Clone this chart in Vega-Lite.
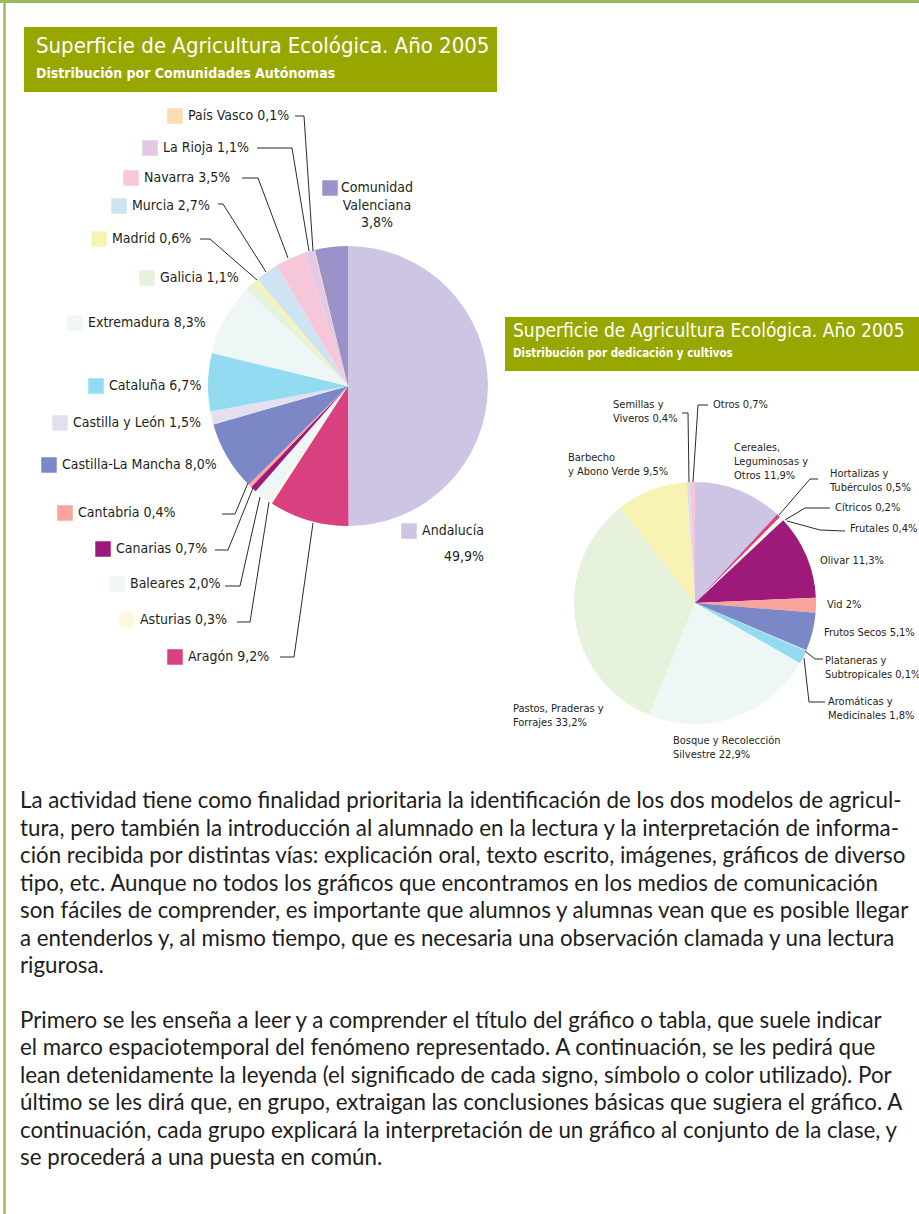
{
  "$schema": "https://vega.github.io/schema/vega-lite/v6.json",
  "width": 919,
  "height": 1214,
  "autosize": "none",
  "padding": 0,
  "background": "white",
  "config": {"view": {"stroke": null}},
  "datasets": {
    "comunidades": [
      {"orden": 1, "nombre": "Andalucía", "pct": 49.9, "etiqueta": ["Andalucía", "49,9%"], "lx": 409, "ly": 531},
      {"orden": 2, "nombre": "Aragón", "pct": 9.2, "etiqueta": "Aragón  9,2%", "lx": 175, "ly": 657},
      {"orden": 3, "nombre": "Asturias", "pct": 0.3, "etiqueta": "Asturias 0,3%", "lx": 127, "ly": 620},
      {"orden": 4, "nombre": "Baleares", "pct": 2.0, "etiqueta": "Baleares 2,0%", "lx": 117, "ly": 584},
      {"orden": 5, "nombre": "Canarias", "pct": 0.7, "etiqueta": "Canarias 0,7%", "lx": 103, "ly": 549},
      {"orden": 6, "nombre": "Cantabria", "pct": 0.4, "etiqueta": "Cantabria  0,4%", "lx": 65, "ly": 513},
      {"orden": 7, "nombre": "Castilla-La Mancha", "pct": 8.0, "etiqueta": "Castilla-La Mancha  8,0%", "lx": 49, "ly": 465},
      {"orden": 8, "nombre": "Castilla y León", "pct": 1.5, "etiqueta": "Castilla y León  1,5%", "lx": 60, "ly": 423},
      {"orden": 9, "nombre": "Cataluña", "pct": 6.7, "etiqueta": "Cataluña 6,7%", "lx": 96, "ly": 386},
      {"orden": 10, "nombre": "Extremadura", "pct": 8.3, "etiqueta": "Extremadura  8,3%", "lx": 75, "ly": 323},
      {"orden": 11, "nombre": "Galicia", "pct": 1.1, "etiqueta": "Galicia  1,1%", "lx": 147, "ly": 278},
      {"orden": 12, "nombre": "Madrid", "pct": 0.6, "etiqueta": "Madrid  0,6%", "lx": 99, "ly": 239},
      {"orden": 13, "nombre": "Murcia", "pct": 2.7, "etiqueta": "Murcia  2,7%", "lx": 119, "ly": 206},
      {"orden": 14, "nombre": "Navarra", "pct": 3.5, "etiqueta": "Navarra   3,5%", "lx": 131, "ly": 178},
      {"orden": 15, "nombre": "La Rioja", "pct": 1.1, "etiqueta": "La Rioja   1,1%", "lx": 150, "ly": 148},
      {"orden": 16, "nombre": "País Vasco", "pct": 0.1, "etiqueta": "País Vasco  0,1%", "lx": 175, "ly": 116},
      {"orden": 17, "nombre": "Comunidad Valenciana", "pct": 3.8, "etiqueta": ["Comunidad", "Valenciana", "3,8%"], "lx": 330, "ly": 188}
    ],
    "cultivos": [
      {"orden": 1, "nombre": "Cereales, Leguminosas y Otros", "pct": 11.9, "etiqueta": ["Cereales,", "Leguminosas y", "Otros 11,9%"], "lx": 734, "ly": 448},
      {"orden": 2, "nombre": "Hortalizas y Tubérculos", "pct": 0.5, "etiqueta": ["Hortalizas y", "Tubérculos  0,5%"], "lx": 830, "ly": 474},
      {"orden": 3, "nombre": "Cítricos", "pct": 0.2, "etiqueta": "Cítricos  0,2%", "lx": 835, "ly": 508},
      {"orden": 4, "nombre": "Frutales", "pct": 0.4, "etiqueta": "Frutales  0,4%", "lx": 850, "ly": 529},
      {"orden": 5, "nombre": "Olivar", "pct": 11.3, "etiqueta": "Olivar 11,3%", "lx": 820, "ly": 561},
      {"orden": 6, "nombre": "Vid", "pct": 2.0, "etiqueta": "Vid 2%", "lx": 827, "ly": 605},
      {"orden": 7, "nombre": "Frutos Secos", "pct": 5.1, "etiqueta": "Frutos Secos 5,1%", "lx": 824, "ly": 633},
      {"orden": 8, "nombre": "Plataneras y Subtropicales", "pct": 0.1, "etiqueta": ["Plataneras y", "Subtropicales 0,1%"], "lx": 825, "ly": 661},
      {"orden": 9, "nombre": "Aromáticas y Medicinales", "pct": 1.8, "etiqueta": ["Aromáticas y", "Medicinales  1,8%"], "lx": 828, "ly": 702},
      {"orden": 10, "nombre": "Bosque y Recolección Silvestre", "pct": 22.9, "etiqueta": ["Bosque y Recolección", "Silvestre 22,9%"], "lx": 673, "ly": 741},
      {"orden": 11, "nombre": "Pastos, Praderas y Forrajes", "pct": 33.2, "etiqueta": ["Pastos, Praderas y", "Forrajes  33,2%"], "lx": 513, "ly": 709},
      {"orden": 12, "nombre": "Barbecho y Abono Verde", "pct": 9.5, "etiqueta": ["Barbecho", "y Abono Verde  9,5%"], "lx": 568, "ly": 458},
      {"orden": 13, "nombre": "Semillas y Viveros", "pct": 0.4, "etiqueta": ["Semillas y", "Viveros  0,4%"], "lx": 613, "ly": 405},
      {"orden": 14, "nombre": "Otros", "pct": 0.7, "etiqueta": "Otros  0,7%", "lx": 713, "ly": 405}
    ],
    "guias": [
      {"g": "País Vasco", "k": 1, "x": 295, "y": 116}, {"g": "País Vasco", "k": 2, "x": 304, "y": 116}, {"g": "País Vasco", "k": 3, "x": 313, "y": 251},
      {"g": "La Rioja", "k": 1, "x": 257, "y": 148}, {"g": "La Rioja", "k": 2, "x": 292, "y": 148}, {"g": "La Rioja", "k": 3, "x": 309, "y": 251},
      {"g": "Navarra", "k": 1, "x": 242, "y": 178}, {"g": "Navarra", "k": 2, "x": 258, "y": 178}, {"g": "Navarra", "k": 3, "x": 288, "y": 258},
      {"g": "Murcia", "k": 1, "x": 218, "y": 204}, {"g": "Murcia", "k": 2, "x": 223, "y": 204}, {"g": "Murcia", "k": 3, "x": 266, "y": 272},
      {"g": "Madrid", "k": 1, "x": 200, "y": 239}, {"g": "Madrid", "k": 2, "x": 210, "y": 239}, {"g": "Madrid", "k": 3, "x": 257, "y": 280},
      {"g": "Cantabria", "k": 1, "x": 222, "y": 514}, {"g": "Cantabria", "k": 2, "x": 235, "y": 514}, {"g": "Cantabria", "k": 3, "x": 248, "y": 483},
      {"g": "Canarias", "k": 1, "x": 215, "y": 550}, {"g": "Canarias", "k": 2, "x": 228, "y": 550}, {"g": "Canarias", "k": 3, "x": 253, "y": 488},
      {"g": "Baleares", "k": 1, "x": 225, "y": 586}, {"g": "Baleares", "k": 2, "x": 240, "y": 586}, {"g": "Baleares", "k": 3, "x": 260, "y": 497},
      {"g": "Asturias", "k": 1, "x": 237, "y": 622}, {"g": "Asturias", "k": 2, "x": 250, "y": 622}, {"g": "Asturias", "k": 3, "x": 269, "y": 502},
      {"g": "Aragón", "k": 1, "x": 280, "y": 657}, {"g": "Aragón", "k": 2, "x": 294, "y": 657}, {"g": "Aragón", "k": 3, "x": 313, "y": 523},
      {"g": "Semillas", "k": 1, "x": 682, "y": 413}, {"g": "Semillas", "k": 2, "x": 688, "y": 413}, {"g": "Semillas", "k": 3, "x": 689, "y": 482},
      {"g": "Otros", "k": 1, "x": 708, "y": 405}, {"g": "Otros", "k": 2, "x": 698, "y": 405}, {"g": "Otros", "k": 3, "x": 693, "y": 482},
      {"g": "Hortalizas", "k": 1, "x": 818, "y": 479}, {"g": "Hortalizas", "k": 2, "x": 810, "y": 479}, {"g": "Hortalizas", "k": 3, "x": 779, "y": 515},
      {"g": "Cítricos", "k": 1, "x": 830, "y": 508}, {"g": "Cítricos", "k": 2, "x": 805, "y": 508}, {"g": "Cítricos", "k": 3, "x": 785, "y": 520},
      {"g": "Frutales", "k": 1, "x": 845, "y": 531}, {"g": "Frutales", "k": 2, "x": 820, "y": 530}, {"g": "Frutales", "k": 3, "x": 787, "y": 521},
      {"g": "Plataneras", "k": 1, "x": 823, "y": 659}, {"g": "Plataneras", "k": 2, "x": 815, "y": 659}, {"g": "Plataneras", "k": 3, "x": 805, "y": 651},
      {"g": "Aromáticas", "k": 1, "x": 825, "y": 702}, {"g": "Aromáticas", "k": 2, "x": 809, "y": 702}, {"g": "Aromáticas", "k": 3, "x": 804, "y": 658}
    ],
    "parrafos": [
      {"linea": "La actividad tiene como finalidad prioritaria la identificación de los dos modelos de agricul-", "y": 801},
      {"linea": "tura, pero también la introducción al alumnado en la lectura y la interpretación de informa-", "y": 829},
      {"linea": "ción recibida por distintas vías: explicación oral, texto escrito, imágenes, gráficos de diverso", "y": 856},
      {"linea": "tipo, etc. Aunque no todos los gráficos que encontramos en los medios de comunicación", "y": 884},
      {"linea": "son fáciles de comprender, es importante que alumnos y alumnas vean que es posible llegar", "y": 911},
      {"linea": "a entenderlos y, al mismo tiempo, que es necesaria una observación clamada y una lectura", "y": 939},
      {"linea": "rigurosa.", "y": 966},
      {"linea": "Primero se les enseña a leer y a comprender el título del gráfico o tabla, que suele indicar", "y": 1021},
      {"linea": "el marco espaciotemporal del fenómeno representado. A continuación, se les pedirá que", "y": 1048},
      {"linea": "lean detenidamente la leyenda (el significado de cada signo, símbolo o color utilizado). Por", "y": 1076},
      {"linea": "último se les dirá que, en grupo, extraigan las conclusiones básicas que sugiera el gráfico. A", "y": 1103},
      {"linea": "continuación, cada grupo explicará la interpretación de un gráfico al conjunto de la clase, y", "y": 1131},
      {"linea": "se procederá a una puesta en común.", "y": 1158}
    ]
  },
  "resolve": {"scale": {"theta": "independent"}},
  "layer": [
    {
      "data": {"values": [{}]},
      "mark": {"type": "rule", "color": "#9dba5a", "strokeWidth": 3},
      "encoding": {
        "x": {"datum": 0, "type": "quantitative", "scale": {"domain": [0, 919], "nice": false, "zero": false}, "axis": null},
        "x2": {"datum": 919},
        "y": {"datum": 1.5, "type": "quantitative", "scale": {"domain": [0, 1214], "reverse": true, "nice": false, "zero": false}, "axis": null}
      }
    },
    {
      "data": {"values": [{}]},
      "mark": {"type": "rule", "color": "#9dba5a", "strokeWidth": 2.5},
      "encoding": {
        "x": {"datum": 4.5, "type": "quantitative", "scale": {"domain": [0, 919], "nice": false, "zero": false}, "axis": null},
        "y": {"datum": 0, "type": "quantitative", "scale": {"domain": [0, 1214], "reverse": true, "nice": false, "zero": false}, "axis": null},
        "y2": {"datum": 1214}
      }
    },
    {
      "data": {"values": [{"x1": 24, "x2": 497, "y1": 27, "y2": 92}, {"x1": 505, "x2": 919, "y1": 317, "y2": 371}]},
      "mark": {"type": "rect", "color": "#97a700"},
      "encoding": {
        "x": {"field": "x1", "type": "quantitative", "scale": {"domain": [0, 919], "nice": false, "zero": false}, "axis": null},
        "x2": {"field": "x2"},
        "y": {"field": "y1", "type": "quantitative", "scale": {"domain": [0, 1214], "reverse": true, "nice": false, "zero": false}, "axis": null},
        "y2": {"field": "y2"}
      }
    },
    {
      "data": {"values": [
        {"t": "Superficie de Agricultura Ecológica. Año 2005", "x": 36, "y": 46}
      ]},
      "mark": {"type": "text", "align": "left", "baseline": "middle", "font": "DejaVu Sans Condensed, sans-serif", "fontSize": 22, "fill": "white"},
      "encoding": {
        "x": {"field": "x", "type": "quantitative", "scale": {"domain": [0, 919], "nice": false, "zero": false}, "axis": null},
        "y": {"field": "y", "type": "quantitative", "scale": {"domain": [0, 1214], "reverse": true, "nice": false, "zero": false}, "axis": null},
        "text": {"field": "t", "type": "nominal"}
      }
    },
    {
      "data": {"values": [
        {"t": "Superficie de Agricultura Ecológica. Año 2005", "x": 513, "y": 331}
      ]},
      "mark": {"type": "text", "align": "left", "baseline": "middle", "font": "DejaVu Sans Condensed, sans-serif", "fontSize": 19, "fill": "white"},
      "encoding": {
        "x": {"field": "x", "type": "quantitative", "scale": {"domain": [0, 919], "nice": false, "zero": false}, "axis": null},
        "y": {"field": "y", "type": "quantitative", "scale": {"domain": [0, 1214], "reverse": true, "nice": false, "zero": false}, "axis": null},
        "text": {"field": "t", "type": "nominal"}
      }
    },
    {
      "data": {"values": [
        {"t": "Distribución por Comunidades Autónomas", "x": 36, "y": 74}
      ]},
      "mark": {"type": "text", "align": "left", "baseline": "middle", "font": "DejaVu Sans Condensed, sans-serif", "fontSize": 14, "fontWeight": "bold", "fill": "white"},
      "encoding": {
        "x": {"field": "x", "type": "quantitative", "scale": {"domain": [0, 919], "nice": false, "zero": false}, "axis": null},
        "y": {"field": "y", "type": "quantitative", "scale": {"domain": [0, 1214], "reverse": true, "nice": false, "zero": false}, "axis": null},
        "text": {"field": "t", "type": "nominal"}
      }
    },
    {
      "data": {"values": [
        {"t": "Distribución por dedicación y cultivos", "x": 513, "y": 354}
      ]},
      "mark": {"type": "text", "align": "left", "baseline": "middle", "font": "DejaVu Sans Condensed, sans-serif", "fontSize": 11.5, "fontWeight": "bold", "fill": "white"},
      "encoding": {
        "x": {"field": "x", "type": "quantitative", "scale": {"domain": [0, 919], "nice": false, "zero": false}, "axis": null},
        "y": {"field": "y", "type": "quantitative", "scale": {"domain": [0, 1214], "reverse": true, "nice": false, "zero": false}, "axis": null},
        "text": {"field": "t", "type": "nominal"}
      }
    },
    {
      "data": {"name": "comunidades"},
      "mark": {"type": "arc", "outerRadius": 140},
      "encoding": {
        "theta": {"field": "pct", "type": "quantitative", "stack": true},
        "order": {"field": "orden", "type": "quantitative"},
        "color": {
          "field": "nombre", "type": "nominal", "legend": null,
          "scale": {
            "domain": ["Andalucía", "Aragón", "Asturias", "Baleares", "Canarias", "Cantabria", "Castilla-La Mancha", "Castilla y León", "Cataluña", "Extremadura", "Galicia", "Madrid", "Murcia", "Navarra", "La Rioja", "País Vasco", "Comunidad Valenciana",
                       "Cereales, Leguminosas y Otros", "Hortalizas y Tubérculos", "Cítricos", "Frutales", "Olivar", "Vid", "Frutos Secos", "Plataneras y Subtropicales", "Aromáticas y Medicinales", "Bosque y Recolección Silvestre", "Pastos, Praderas y Forrajes", "Barbecho y Abono Verde", "Semillas y Viveros", "Otros"],
            "range": ["#cec5e4", "#d9407f", "#fdf8df", "#eef7f6", "#9d1a7b", "#f9a59b", "#7b87c6", "#e4e0f0", "#92dbf1", "#eef7f6", "#e6f2dc", "#f9f3b3", "#cfe4f2", "#f8c6d9", "#e3c9e4", "#fbdcb0", "#9a92c9",
                      "#cec5e4", "#d9407f", "#fdf8df", "#eef7f6", "#9d1a7b", "#f9a59b", "#7b87c6", "#e4e0f0", "#92dbf1", "#eef7f6", "#e6f2dc", "#f9f3b3", "#cfe4f2", "#f8c6d9"]
          }
        },
        "x": {"datum": 348, "type": "quantitative", "scale": {"domain": [0, 919], "nice": false, "zero": false}, "axis": null},
        "y": {"datum": 386, "type": "quantitative", "scale": {"domain": [0, 1214], "reverse": true, "nice": false, "zero": false}, "axis": null}
      }
    },
    {
      "data": {"name": "cultivos"},
      "mark": {"type": "arc", "outerRadius": 121},
      "encoding": {
        "theta": {"field": "pct", "type": "quantitative", "stack": true},
        "order": {"field": "orden", "type": "quantitative"},
        "color": {"field": "nombre", "type": "nominal", "legend": null},
        "x": {"datum": 695, "type": "quantitative", "scale": {"domain": [0, 919], "nice": false, "zero": false}, "axis": null},
        "y": {"datum": 603, "type": "quantitative", "scale": {"domain": [0, 1214], "reverse": true, "nice": false, "zero": false}, "axis": null}
      }
    },
    {
      "data": {"name": "guias"},
      "mark": {"type": "line", "color": "#2b2b2b", "strokeWidth": 1},
      "encoding": {
        "x": {"field": "x", "type": "quantitative", "scale": {"domain": [0, 919], "nice": false, "zero": false}, "axis": null},
        "y": {"field": "y", "type": "quantitative", "scale": {"domain": [0, 1214], "reverse": true, "nice": false, "zero": false}, "axis": null},
        "detail": {"field": "g", "type": "nominal"},
        "order": {"field": "k", "type": "quantitative"}
      }
    },
    {
      "data": {"name": "comunidades"},
      "mark": {"type": "square", "size": 240, "opacity": 1},
      "encoding": {
        "x": {"field": "lx", "type": "quantitative", "scale": {"domain": [0, 919], "nice": false, "zero": false}, "axis": null},
        "y": {"field": "ly", "type": "quantitative", "scale": {"domain": [0, 1214], "reverse": true, "nice": false, "zero": false}, "axis": null},
        "color": {"field": "nombre", "type": "nominal", "legend": null}
      }
    },
    {
      "data": {"name": "comunidades"},
      "transform": [{"filter": "datum.nombre != 'Andalucía' && datum.nombre != 'Comunidad Valenciana'"}],
      "mark": {"type": "text", "align": "left", "baseline": "middle", "dx": 13, "font": "DejaVu Sans Condensed, sans-serif", "fontSize": 14, "fill": "#231f20"},
      "encoding": {
        "x": {"field": "lx", "type": "quantitative", "scale": {"domain": [0, 919], "nice": false, "zero": false}, "axis": null},
        "y": {"field": "ly", "type": "quantitative", "scale": {"domain": [0, 1214], "reverse": true, "nice": false, "zero": false}, "axis": null},
        "text": {"field": "etiqueta", "type": "nominal"}
      }
    },
    {
      "data": {"name": "comunidades"},
      "transform": [{"filter": "datum.nombre == 'Comunidad Valenciana'"}],
      "mark": {"type": "text", "align": "center", "baseline": "middle", "dx": 47, "lineHeight": 17.5, "font": "DejaVu Sans Condensed, sans-serif", "fontSize": 14, "fill": "#231f20"},
      "encoding": {
        "x": {"field": "lx", "type": "quantitative", "scale": {"domain": [0, 919], "nice": false, "zero": false}, "axis": null},
        "y": {"field": "ly", "type": "quantitative", "scale": {"domain": [0, 1214], "reverse": true, "nice": false, "zero": false}, "axis": null},
        "text": {"field": "etiqueta", "type": "nominal"}
      }
    },
    {
      "data": {"name": "comunidades"},
      "transform": [{"filter": "datum.nombre == 'Andalucía'"}],
      "mark": {"type": "text", "align": "right", "baseline": "middle", "dx": 75, "lineHeight": 26, "font": "DejaVu Sans Condensed, sans-serif", "fontSize": 14, "fill": "#231f20"},
      "encoding": {
        "x": {"field": "lx", "type": "quantitative", "scale": {"domain": [0, 919], "nice": false, "zero": false}, "axis": null},
        "y": {"field": "ly", "type": "quantitative", "scale": {"domain": [0, 1214], "reverse": true, "nice": false, "zero": false}, "axis": null},
        "text": {"field": "etiqueta", "type": "nominal"}
      }
    },
    {
      "data": {"name": "cultivos"},
      "mark": {"type": "text", "align": "left", "baseline": "middle", "lineHeight": 14, "font": "DejaVu Sans Condensed, sans-serif", "fontSize": 11, "fill": "#231f20"},
      "encoding": {
        "x": {"field": "lx", "type": "quantitative", "scale": {"domain": [0, 919], "nice": false, "zero": false}, "axis": null},
        "y": {"field": "ly", "type": "quantitative", "scale": {"domain": [0, 1214], "reverse": true, "nice": false, "zero": false}, "axis": null},
        "text": {"field": "etiqueta", "type": "nominal"}
      }
    },
    {
      "data": {"name": "parrafos"},
      "mark": {"type": "text", "align": "left", "baseline": "middle", "dx": 20, "font": "Lato, sans-serif", "fontSize": 22.3, "fill": "#1d1d1b"},
      "encoding": {
        "x": {"datum": 0, "type": "quantitative", "scale": {"domain": [0, 919], "nice": false, "zero": false}, "axis": null},
        "y": {"field": "y", "type": "quantitative", "scale": {"domain": [0, 1214], "reverse": true, "nice": false, "zero": false}, "axis": null},
        "text": {"field": "linea", "type": "nominal"}
      }
    }
  ]
}
